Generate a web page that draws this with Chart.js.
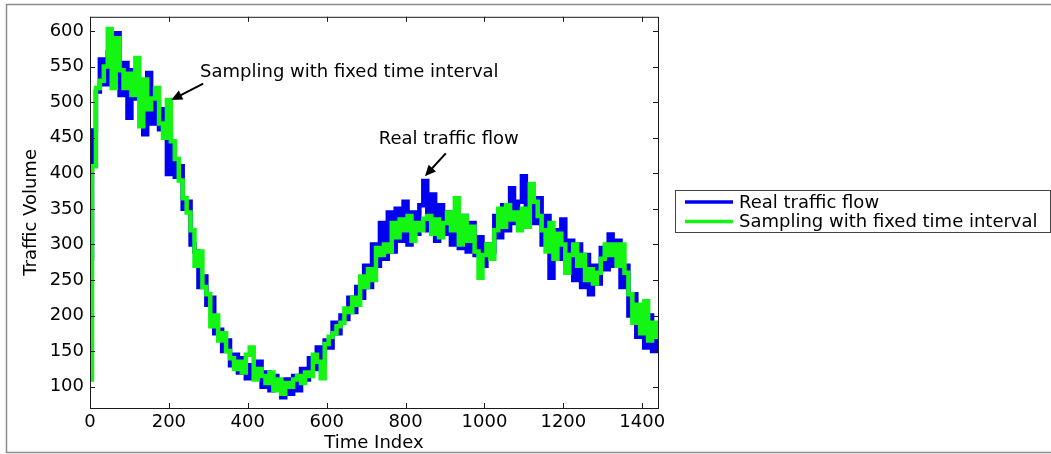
<!DOCTYPE html>
<html lang="en">
<head>
<meta charset="UTF-8">
<title>Traffic Volume</title>
<script src="https://cdn.jsdelivr.net/npm/chart.js"></script>
<style>
  body { margin: 0; background: #fff; }
  #wrap { width: 1051px; height: 454px; }
</style>
</head>
<body>
<div id="wrap"><canvas id="myChart" width="1051" height="454"></canvas></div>
<script>
// time index of every sample (one value every 10 steps, 0..1440)
const step = 10;
const timeIndex = Array.from({ length: 145 }, (_, i) => i * step);

// Real traffic flow (blue)
const realFlow = [
  280, 460, 515, 560, 525, 570, 540, 597, 510, 555,
  478, 545, 505, 530, 455, 541, 470, 500, 462, 490,
  399, 440, 395, 410, 350, 360, 300, 290, 240, 255,
  215, 225, 175, 180, 150, 165, 130, 145, 120, 140,
  112, 130, 115, 135, 100, 120, 95, 115, 100, 85,
  110, 90, 115, 95, 125, 110, 140, 125, 155, 135,
  165, 155, 190, 175, 200, 195, 225, 205, 240, 225,
  270, 240, 300, 270, 330, 280, 345, 290, 350, 305,
  360, 300, 345, 315, 355, 389, 320, 370, 305, 355,
  315, 345, 300, 330, 295, 340, 290, 330, 285, 310,
  270, 300, 290, 340, 310, 355, 320, 379, 330, 360,
  396, 335, 375, 330, 365, 300, 340, 253, 320, 280,
  335, 270, 305, 250, 300, 240, 285, 230, 270, 245,
  295, 265, 314, 270, 305, 240, 270, 200, 230, 170,
  210, 155, 200, 150, 175
];

// Sampling with fixed time interval (green)
const sampledFlow = [
  110, 410, 520, 530, 550, 603, 520, 590, 545, 520,
  540, 510, 562, 466, 532, 490, 505, 520, 470, 450,
  503, 445, 420, 390, 365, 345, 320, 270, 290, 240,
  230, 185, 200, 165, 175, 150, 140, 125, 135, 120,
  145, 155, 110, 125, 115, 105, 120, 95, 110, 90,
  105, 100, 110, 115, 105, 120, 115, 145, 135, 112,
  160, 170, 175, 185, 190, 210, 205, 225, 215, 255,
  240, 265, 250, 295, 285, 300, 290, 330, 310, 335,
  320, 340, 305, 330, 320, 336, 340, 315, 335, 310,
  330, 345, 320, 365, 300, 340, 305, 325, 290, 253,
  285, 300, 280, 320, 350, 325, 355, 335, 345, 320,
  350, 325, 385, 360, 340, 320, 290, 330, 280, 315,
  300, 260, 285, 300, 270, 285, 250, 265, 245, 260,
  280, 300, 285, 300, 270, 300, 260, 230, 190, 215,
  175, 220, 165, 190, 170
];

const xTicks = [0, 200, 400, 600, 800, 1000, 1200, 1400];
const yTicks = [100, 150, 200, 250, 300, 350, 400, 450, 500, 550, 600];

// text notes with arrow: text anchor, arrow tail, arrow tip (data units)
const notes = [
  { text: "Sampling with fixed time interval", tx: 279, ty: 542, ax: 287, ay: 526, bx: 206, by: 503 },
  { text: "Real traffic flow", tx: 732, ty: 448, ax: 902, ay: 428, bx: 849, by: 396 }
];

const FONT = "'DejaVu Sans', sans-serif";
const INK = "#1a1a1a";

function toPoints(ys) {
  return ys.map((y, i) => ({ x: timeIndex[i], y: y }));
}

const frameAndTicks = {
  id: "frameAndTicks",
  beforeDraw(chart) {
    const c = chart.ctx;
    c.save();
    c.fillStyle = "#fff";
    c.fillRect(0, 0, chart.width, chart.height);
    c.strokeStyle = "#8c8c8c";
    c.lineWidth = 1.5;
    c.strokeRect(6.5, 4.5, 1100, 448);
    c.restore();
  },
  afterDraw(chart) {
    const c = chart.ctx;
    const a = chart.chartArea;
    const xs = chart.scales.x, ys = chart.scales.y;
    c.save();
    c.strokeStyle = INK;
    c.lineWidth = 1;
    c.strokeRect(a.left + 0.5, a.top + 0.5, a.right - a.left, a.bottom - a.top);
    c.beginPath();
    xTicks.forEach(v => {
      const px = Math.round(xs.getPixelForValue(v)) + 0.5;
      c.moveTo(px, a.bottom); c.lineTo(px, a.bottom - 5);
      c.moveTo(px, a.top); c.lineTo(px, a.top + 5);
    });
    yTicks.forEach(v => {
      const py = Math.round(ys.getPixelForValue(v)) + 0.5;
      c.moveTo(a.left, py); c.lineTo(a.left + 5, py);
      c.moveTo(a.right, py); c.lineTo(a.right - 5, py);
    });
    c.stroke();

    // notes with arrows
    c.fillStyle = "#000";
    c.strokeStyle = "#000";
    c.font = "18px " + FONT;
    c.textBaseline = "middle";
    notes.forEach(n => {
      c.fillText(n.text, xs.getPixelForValue(n.tx), ys.getPixelForValue(n.ty));
      const x1 = xs.getPixelForValue(n.ax), y1 = ys.getPixelForValue(n.ay);
      const x2 = xs.getPixelForValue(n.bx), y2 = ys.getPixelForValue(n.by);
      const ang = Math.atan2(y2 - y1, x2 - x1);
      c.lineWidth = 2;
      c.beginPath();
      c.moveTo(x1, y1);
      c.lineTo(x2 - 8 * Math.cos(ang), y2 - 8 * Math.sin(ang));
      c.stroke();
      c.beginPath();
      c.moveTo(x2, y2);
      c.lineTo(x2 - 11 * Math.cos(ang) + 5 * Math.sin(ang), y2 - 11 * Math.sin(ang) - 5 * Math.cos(ang));
      c.lineTo(x2 - 11 * Math.cos(ang) - 5 * Math.sin(ang), y2 - 11 * Math.sin(ang) + 5 * Math.cos(ang));
      c.closePath();
      c.fill();
    });

    // legend box
    c.lineWidth = 1;
    c.strokeStyle = "#444";
    c.strokeRect(675.5, 190.5, 375, 42);
    chart.data.datasets.slice().reverse().forEach((ds, i) => {
      const y = 202 + i * 19.5;
      c.strokeStyle = ds.borderColor;
      c.lineWidth = 3.5;
      c.beginPath();
      c.moveTo(685, y); c.lineTo(733, y);
      c.stroke();
      c.fillStyle = "#000";
      c.fillText(ds.label, 739, y + 1);
    });
    c.restore();
  }
};

const config = {
  type: "line",
  data: {
    datasets: [
      {
        label: "Sampling with fixed time interval",
        data: toPoints(sampledFlow),
        borderColor: "#14f514",
        borderWidth: 4.5,
        pointRadius: 0,
        stepped: "middle"
      },
      {
        label: "Real traffic flow",
        data: toPoints(realFlow),
        borderColor: "#0000f0",
        borderWidth: 4.5,
        pointRadius: 0,
        stepped: "middle"
      }
    ]
  },
  options: {
    responsive: false,
    animation: false,
    layout: { padding: { left: 0, top: 16, right: 393, bottom: 0 } },
    plugins: { legend: { display: false }, tooltip: { enabled: false } },
    scales: {
      x: {
        type: "linear",
        min: 0,
        max: 1440,
        afterBuildTicks: s => { s.ticks = xTicks.map(v => ({ value: v })); },
        afterFit: s => { s.height = 46; },
        grid: { display: false, drawTicks: false },
        border: { display: false },
        ticks: { color: "#000", font: { family: FONT, size: 18 }, padding: 4, maxRotation: 0, callback: v => String(v) },
        title: { display: true, text: "Time Index", color: "#000", font: { family: FONT, size: 18 }, padding: { top: 5, bottom: 0 } }
      },
      y: {
        min: 70,
        max: 620,
        afterBuildTicks: s => { s.ticks = yTicks.map(v => ({ value: v })); },
        afterFit: s => { s.width = 90; },
        grid: { display: false, drawTicks: false },
        border: { display: false },
        ticks: { color: "#000", font: { family: FONT, size: 18 }, padding: 6, callback: v => String(v) },
        title: { display: true, text: "Traffic Volume", color: "#000", font: { family: FONT, size: 18 }, padding: { top: 21, bottom: 0 } }
      }
    }
  },
  plugins: [frameAndTicks]
};

new Chart(document.getElementById("myChart"), config);
</script>
</body>
</html>
